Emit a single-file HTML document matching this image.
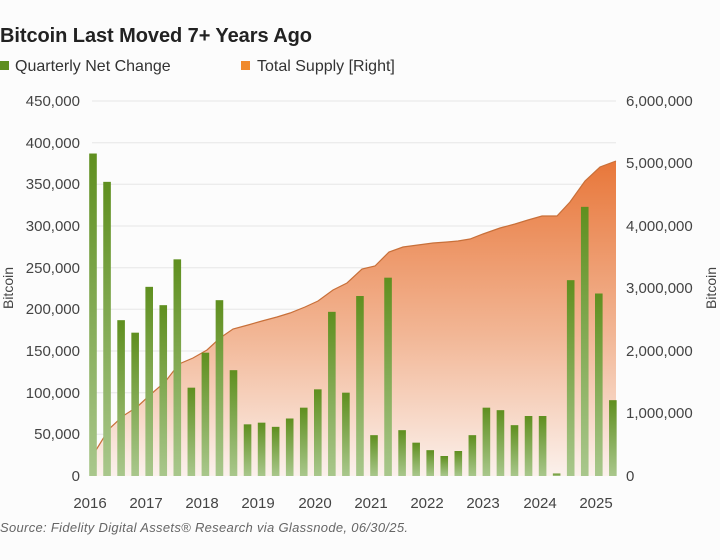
<!DOCTYPE html>
<html><head><meta charset="utf-8"><style>
html,body{margin:0;padding:0;background:#fcfcfc;}
svg{display:block;font-family:"Liberation Sans",sans-serif;}
</style></head><body>
<svg width="720" height="560" viewBox="0 0 720 560" xmlns="http://www.w3.org/2000/svg">
<defs>
<linearGradient id="og" x1="0" y1="161" x2="0" y2="476" gradientUnits="userSpaceOnUse">
<stop offset="0" stop-color="#e8773a"/><stop offset="0.55" stop-color="#f2b695"/><stop offset="1" stop-color="#fbf1ec"/>
</linearGradient>
<linearGradient id="gg" x1="0" y1="0" x2="0" y2="1">
<stop offset="0" stop-color="#5f8f1f"/><stop offset="1" stop-color="#a9c78c"/>
</linearGradient>
</defs>
<rect width="720" height="560" fill="#fcfcfc"/>
<text x="0" y="42" font-size="20" font-weight="bold" fill="#222" textLength="312">Bitcoin Last Moved 7+ Years Ago</text>
<rect x="0" y="61" width="9" height="9" fill="#5e8f1f"/>
<text x="15" y="71" font-size="16" fill="#333">Quarterly Net Change</text>
<rect x="241" y="61" width="9" height="9" fill="#f08a2c"/>
<text x="257" y="71" font-size="16" fill="#333">Total Supply [Right]</text>
<g stroke="#e6e6e6" stroke-width="1">
<line x1="92" x2="616" y1="101" y2="101"/><line x1="92" x2="616" y1="142.7" y2="142.7"/>
<line x1="92" x2="616" y1="184.3" y2="184.3"/><line x1="92" x2="616" y1="226" y2="226"/>
<line x1="92" x2="616" y1="267.7" y2="267.7"/><line x1="92" x2="616" y1="309.3" y2="309.3"/>
<line x1="92" x2="616" y1="351" y2="351"/><line x1="92" x2="616" y1="392.7" y2="392.7"/>
<line x1="92" x2="616" y1="434.3" y2="434.3"/>
</g>
<polygon fill="url(#og)" points="93,476 93,455 109,429 123,416 137,407 150,395 165,382 179,364 193,358 207,350 220,338 233,329 248,325 262,321 277,317 290,313 305,307 318,301 333,290 347,283 362,269 375,266 389,252 403,247 418,245 433,243 447,242 458,241 470,239 483,234 500,228 515,224 528,220 542,216 557,216 570,202 585,181 600,167 616,161 616,476"/>
<polyline fill="none" stroke="#c8703a" stroke-width="1.2" points="93,455 109,429 123,416 137,407 150,395 165,382 179,364 193,358 207,350 220,338 233,329 248,325 262,321 277,317 290,313 305,307 318,301 333,290 347,283 362,269 375,266 389,252 403,247 418,245 433,243 447,242 458,241 470,239 483,234 500,228 515,224 528,220 542,216 557,216 570,202 585,181 600,167 616,161"/>
<g id="bars"></g>
<g font-size="15" fill="#444" text-anchor="end">
<text x="80" y="106">450,000</text><text x="80" y="148">400,000</text><text x="80" y="189">350,000</text>
<text x="80" y="231">300,000</text><text x="80" y="273">250,000</text><text x="80" y="314">200,000</text>
<text x="80" y="356">150,000</text><text x="80" y="398">100,000</text><text x="80" y="439">50,000</text>
<text x="80" y="481">0</text>
</g>
<g font-size="15" fill="#444">
<text x="626" y="106">6,000,000</text><text x="626" y="168">5,000,000</text><text x="626" y="231">4,000,000</text>
<text x="626" y="293">3,000,000</text><text x="626" y="356">2,000,000</text><text x="626" y="418">1,000,000</text>
<text x="626" y="481">0</text>
</g>
<g font-size="15" fill="#444" text-anchor="middle">
<text x="90" y="508">2016</text><text x="146" y="508">2017</text><text x="202" y="508">2018</text>
<text x="258" y="508">2019</text><text x="315" y="508">2020</text><text x="371" y="508">2021</text>
<text x="427" y="508">2022</text><text x="483" y="508">2023</text><text x="540" y="508">2024</text>
<text x="596" y="508">2025</text>
</g>
<text transform="translate(13,288) rotate(-90)" font-size="14" fill="#444" text-anchor="middle">Bitcoin</text>
<text transform="translate(716,288) rotate(-90)" font-size="14" fill="#444" text-anchor="middle">Bitcoin</text>
<text x="0" y="532" font-size="13" font-style="italic" fill="#666" textLength="408">Source: Fidelity Digital Assets® Research via Glassnode, 06/30/25.</text>
</svg>
<script>
var v=[387,353,187,172,227,205,260,106,148,211,127,62,64,59,69,82,104,197,100,216,49,238,55,40,31,24,30,49,82,79,61,72,72,3,235,323,219,91];
var g=document.getElementById('bars'),s='';
for(var i=0;i<v.length;i++){var c=93+i*14.05,h=v[i]*0.8333;s+='<rect x="'+(c-3.8)+'" y="'+(476-h)+'" width="7.6" height="'+h+'" fill="url(#gg)"/>';}
g.innerHTML=s;
</script>
</body></html>
